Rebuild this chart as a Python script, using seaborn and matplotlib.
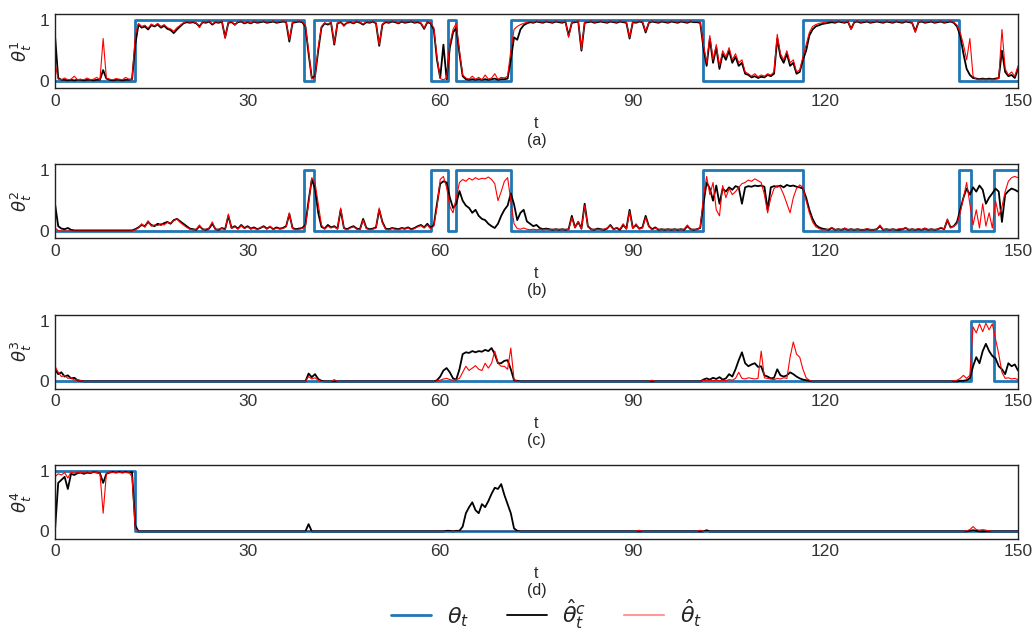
import numpy as np
import pandas as pd
import matplotlib
matplotlib.use("Agg")
import matplotlib.pyplot as plt
from matplotlib.lines import Line2D
import seaborn as sns

sns.set_theme(style="white")
plt.rcParams["font.family"] = ["Liberation Sans", "DejaVu Sans"]
plt.rcParams["mathtext.fontset"] = "dejavusans"

# ---------------------------------------------------------------------------
# Regime sequence of the true state theta_t (one-hot over four components)
# ---------------------------------------------------------------------------
switch_times = [0, 12.5, 38.8, 40.3, 58.6, 61.2, 62.5, 71.0, 100.9, 116.5, 140.8, 142.7, 146.3]
active_component = [4, 1, 2, 1, 2, 1, 2, 1, 2, 1, 2, 3, 2]
t_end = 150.0

# Estimates sampled every 0.5 time units (t = 0, 0.5, ..., 150); one row = 10 time units
dt = 0.5

# component 1: filtered estimate with clustering (hat theta^c) and without (hat theta)
est_c_1 = (
    [0.75, 0.05, 0.02, 0.02, 0.01, 0.02, 0.01, 0.02, 0.02, 0.01, 0.02, 0.02, 0.01, 0.02, 0.02, 0.18, 0.04, 0.02, 0.01, 0.02]
    + [0.02, 0.01, 0.02, 0.02, 0.03, 0.6, 0.93, 0.88, 0.9, 0.85, 0.92, 0.9, 0.93, 0.88, 0.91, 0.86, 0.84, 0.79, 0.85, 0.9]
    + [0.95, 0.97, 0.96, 0.97, 0.95, 0.9, 0.97, 0.96, 0.98, 0.93, 0.97, 0.96, 0.98, 0.72, 0.96, 0.97, 0.93, 0.97, 0.98, 0.95]
    + [0.97, 0.95, 0.98, 0.96, 0.97, 0.98, 0.96, 0.97, 0.98, 0.96, 0.97, 0.98, 0.97, 0.65, 0.96, 0.97, 0.98, 0.97, 0.9, 0.45]
    + [0.05, 0.08, 0.5, 0.88, 0.95, 0.93, 0.96, 0.6, 0.95, 0.97, 0.92, 0.96, 0.97, 0.95, 0.98, 0.96, 0.93, 0.97, 0.96, 0.98]
    + [0.95, 0.58, 0.93, 0.97, 0.96, 0.98, 0.97, 0.95, 0.98, 0.96, 0.97, 0.98, 0.96, 0.97, 0.95, 0.86, 0.97, 0.95, 0.85, 0.35]
    + [0.05, 0.6, 0.03, 0.55, 0.8, 0.88, 0.45, 0.08, 0.03, 0.02, 0.03, 0.02, 0.03, 0.02, 0.03, 0.02, 0.03, 0.04, 0.02, 0.03]
    + [0.03, 0.04, 0.35, 0.72, 0.68, 0.85, 0.92, 0.95, 0.97, 0.96, 0.98, 0.97, 0.96, 0.98, 0.97, 0.96, 0.98, 0.97, 0.96, 0.98]
    + [0.75, 0.96, 0.97, 0.98, 0.5, 0.96, 0.97, 0.98, 0.96, 0.97, 0.98, 0.97, 0.96, 0.98, 0.97, 0.96, 0.98, 0.97, 0.96, 0.7]
    + [0.97, 0.96, 0.98, 0.97, 0.8, 0.96, 0.98, 0.97, 0.96, 0.98, 0.97, 0.96, 0.98, 0.97, 0.96, 0.98, 0.97, 0.96, 0.98, 0.97]
    + [0.97, 0.96, 0.55, 0.25, 0.7, 0.3, 0.55, 0.2, 0.45, 0.35, 0.5, 0.3, 0.4, 0.25, 0.3, 0.12, 0.1, 0.06, 0.08, 0.05]
    + [0.07, 0.06, 0.1, 0.08, 0.12, 0.7, 0.4, 0.3, 0.45, 0.25, 0.3, 0.12, 0.15, 0.35, 0.5, 0.75, 0.85, 0.9, 0.92, 0.94]
    + [0.95, 0.96, 0.97, 0.96, 0.98, 0.97, 0.96, 0.98, 0.86, 0.97, 0.98, 0.96, 0.97, 0.98, 0.96, 0.97, 0.98, 0.97, 0.96, 0.98]
    + [0.97, 0.96, 0.98, 0.97, 0.96, 0.98, 0.97, 0.96, 0.82, 0.97, 0.98, 0.96, 0.97, 0.98, 0.96, 0.97, 0.98, 0.96, 0.97, 0.98]
    + [0.96, 0.9, 0.75, 0.45, 0.2, 0.1, 0.05, 0.04, 0.03, 0.04, 0.03, 0.04, 0.03, 0.04, 0.05, 0.5, 0.15, 0.08, 0.1, 0.05]
    + [0.2]
)
est_1 = (
    [0.3, 0.03, 0.02, 0.05, 0.02, 0.03, 0.08, 0.02, 0.03, 0.02, 0.05, 0.02, 0.03, 0.06, 0.02, 0.7, 0.05, 0.03, 0.02, 0.04]
    + [0.03, 0.02, 0.06, 0.03, 0.02, 0.75, 0.95, 0.9, 0.92, 0.87, 0.94, 0.91, 0.95, 0.9, 0.93, 0.88, 0.86, 0.82, 0.88, 0.92]
    + [0.96, 0.98, 0.97, 0.98, 0.96, 0.88, 0.98, 0.97, 0.99, 0.94, 0.98, 0.97, 0.99, 0.7, 0.97, 0.98, 0.92, 0.98, 0.99, 0.96]
    + [0.98, 0.96, 0.99, 0.97, 0.98, 0.99, 0.97, 0.98, 0.99, 0.97, 0.98, 0.99, 0.98, 0.68, 0.97, 0.98, 0.99, 0.98, 0.92, 0.5]
    + [0.03, 0.06, 0.55, 0.9, 0.96, 0.94, 0.97, 0.62, 0.96, 0.98, 0.9, 0.97, 0.98, 0.96, 0.99, 0.97, 0.94, 0.98, 0.97, 0.99]
    + [0.96, 0.6, 0.94, 0.98, 0.97, 0.99, 0.98, 0.96, 0.99, 0.97, 0.98, 0.99, 0.97, 0.98, 0.96, 0.87, 0.98, 0.96, 0.88, 0.4]
    + [0.04, 0.02, 0.05, 0.6, 0.85, 0.95, 0.5, 0.1, 0.05, 0.03, 0.08, 0.03, 0.06, 0.02, 0.1, 0.03, 0.05, 0.12, 0.03, 0.06]
    + [0.05, 0.08, 0.5, 0.85, 0.9, 0.93, 0.95, 0.97, 0.98, 0.97, 0.99, 0.98, 0.97, 0.99, 0.98, 0.97, 0.99, 0.98, 0.97, 0.99]
    + [0.72, 0.97, 0.98, 0.99, 0.52, 0.97, 0.98, 0.99, 0.97, 0.98, 0.99, 0.98, 0.97, 0.99, 0.98, 0.97, 0.99, 0.98, 0.97, 0.72]
    + [0.98, 0.97, 0.99, 0.98, 0.82, 0.97, 0.99, 0.98, 0.97, 0.99, 0.98, 0.97, 0.99, 0.98, 0.97, 0.99, 0.98, 0.97, 0.99, 0.98]
    + [0.98, 0.97, 0.6, 0.3, 0.75, 0.35, 0.6, 0.25, 0.5, 0.4, 0.55, 0.35, 0.45, 0.3, 0.35, 0.15, 0.12, 0.08, 0.12, 0.07]
    + [0.1, 0.08, 0.12, 0.1, 0.15, 0.77, 0.45, 0.35, 0.5, 0.3, 0.35, 0.15, 0.18, 0.4, 0.6, 0.8, 0.9, 0.93, 0.95, 0.96]
    + [0.97, 0.98, 0.99, 0.97, 0.99, 0.98, 0.97, 0.99, 0.85, 0.98, 0.99, 0.97, 0.98, 0.99, 0.97, 0.98, 0.99, 0.98, 0.97, 0.99]
    + [0.98, 0.97, 0.99, 0.98, 0.97, 0.99, 0.98, 0.97, 0.8, 0.98, 0.99, 0.97, 0.98, 0.99, 0.97, 0.98, 0.99, 0.97, 0.98, 0.99]
    + [0.97, 0.92, 0.8, 0.6, 0.35, 0.7, 0.08, 0.03, 0.02, 0.03, 0.02, 0.03, 0.02, 0.03, 0.04, 0.85, 0.2, 0.1, 0.15, 0.08]
    + [0.25]
)

# component 2
est_c_2 = (
    [0.45, 0.08, 0.04, 0.03, 0.05, 0.02, 0.01, 0.01, 0.01, 0.01, 0.01, 0.01, 0.01, 0.01, 0.01, 0.01, 0.01, 0.01, 0.01, 0.01]
    + [0.01, 0.01, 0.01, 0.01, 0.01, 0.03, 0.06, 0.1, 0.08, 0.15, 0.1, 0.08, 0.12, 0.1, 0.13, 0.15, 0.12, 0.18, 0.2, 0.16]
    + [0.12, 0.08, 0.04, 0.03, 0.02, 0.08, 0.03, 0.02, 0.04, 0.12, 0.03, 0.02, 0.05, 0.03, 0.25, 0.05, 0.08, 0.04, 0.1, 0.05]
    + [0.08, 0.04, 0.06, 0.03, 0.05, 0.08, 0.04, 0.07, 0.03, 0.06, 0.04, 0.05, 0.08, 0.28, 0.05, 0.03, 0.04, 0.05, 0.1, 0.5]
    + [0.85, 0.7, 0.3, 0.07, 0.04, 0.1, 0.06, 0.08, 0.04, 0.35, 0.05, 0.03, 0.06, 0.08, 0.04, 0.03, 0.2, 0.05, 0.03, 0.04]
    + [0.06, 0.35, 0.15, 0.04, 0.03, 0.05, 0.04, 0.03, 0.05, 0.04, 0.06, 0.03, 0.05, 0.08, 0.1, 0.06, 0.12, 0.05, 0.1, 0.45]
    + [0.78, 0.82, 0.8, 0.55, 0.38, 0.45, 0.66, 0.5, 0.42, 0.38, 0.3, 0.35, 0.25, 0.2, 0.18, 0.12, 0.08, 0.05, 0.12, 0.25]
    + [0.35, 0.42, 0.62, 0.44, 0.18, 0.3, 0.35, 0.16, 0.12, 0.08, 0.1, 0.05, 0.03, 0.04, 0.03, 0.02, 0.03, 0.02, 0.03, 0.02]
    + [0.03, 0.25, 0.06, 0.15, 0.04, 0.45, 0.08, 0.03, 0.02, 0.04, 0.03, 0.02, 0.04, 0.1, 0.03, 0.05, 0.02, 0.1, 0.04, 0.35]
    + [0.05, 0.1, 0.04, 0.06, 0.25, 0.08, 0.03, 0.06, 0.02, 0.03, 0.02, 0.03, 0.02, 0.03, 0.02, 0.03, 0.02, 0.08, 0.03, 0.02]
    + [0.03, 0.05, 0.45, 0.8, 0.7, 0.5, 0.75, 0.45, 0.7, 0.65, 0.72, 0.68, 0.74, 0.72, 0.45, 0.72, 0.74, 0.73, 0.75, 0.74]
    + [0.75, 0.73, 0.35, 0.72, 0.74, 0.73, 0.75, 0.72, 0.76, 0.74, 0.75, 0.73, 0.72, 0.7, 0.55, 0.35, 0.2, 0.1, 0.06, 0.04]
    + [0.03, 0.02, 0.05, 0.02, 0.03, 0.02, 0.04, 0.02, 0.03, 0.02, 0.03, 0.02, 0.02, 0.03, 0.02, 0.02, 0.03, 0.08, 0.02, 0.03]
    + [0.02, 0.03, 0.02, 0.02, 0.03, 0.05, 0.02, 0.03, 0.02, 0.03, 0.02, 0.04, 0.02, 0.03, 0.02, 0.03, 0.05, 0.03, 0.18, 0.06]
    + [0.08, 0.15, 0.35, 0.55, 0.7, 0.6, 0.72, 0.65, 0.75, 0.68, 0.45, 0.55, 0.62, 0.7, 0.65, 0.15, 0.6, 0.66, 0.7, 0.68]
    + [0.65]
)
est_2 = (
    [0.05, 0.01, 0.0, 0.0, 0.0, 0.0, 0.0, 0.0, 0.0, 0.0, 0.0, 0.0, 0.0, 0.0, 0.0, 0.0, 0.0, 0.0, 0.0, 0.0]
    + [0.0, 0.0, 0.0, 0.0, 0.0, 0.02, 0.05, 0.12, 0.06, 0.17, 0.08, 0.1, 0.09, 0.12, 0.1, 0.14, 0.13, 0.17, 0.2, 0.14]
    + [0.1, 0.06, 0.03, 0.02, 0.03, 0.1, 0.02, 0.03, 0.05, 0.15, 0.02, 0.03, 0.04, 0.02, 0.28, 0.04, 0.07, 0.03, 0.09, 0.04]
    + [0.07, 0.03, 0.05, 0.02, 0.06, 0.07, 0.03, 0.08, 0.02, 0.05, 0.03, 0.04, 0.07, 0.3, 0.04, 0.02, 0.03, 0.04, 0.08, 0.45]
    + [0.88, 0.8, 0.45, 0.1, 0.03, 0.08, 0.05, 0.07, 0.03, 0.38, 0.04, 0.02, 0.05, 0.07, 0.03, 0.02, 0.18, 0.04, 0.02, 0.03]
    + [0.05, 0.38, 0.13, 0.03, 0.02, 0.04, 0.03, 0.02, 0.04, 0.03, 0.05, 0.02, 0.04, 0.07, 0.09, 0.05, 0.1, 0.04, 0.08, 0.4]
    + [0.85, 0.9, 0.72, 0.4, 0.3, 0.55, 0.8, 0.85, 0.82, 0.87, 0.84, 0.88, 0.85, 0.87, 0.86, 0.89, 0.85, 0.78, 0.5, 0.65]
    + [0.82, 0.88, 0.5, 0.12, 0.04, 0.03, 0.05, 0.03, 0.02, 0.03, 0.02, 0.03, 0.02, 0.03, 0.02, 0.03, 0.02, 0.03, 0.02, 0.03]
    + [0.02, 0.22, 0.05, 0.16, 0.03, 0.42, 0.07, 0.02, 0.03, 0.03, 0.02, 0.03, 0.05, 0.09, 0.02, 0.06, 0.03, 0.12, 0.03, 0.32]
    + [0.04, 0.12, 0.03, 0.05, 0.22, 0.07, 0.02, 0.05, 0.03, 0.02, 0.03, 0.02, 0.03, 0.02, 0.03, 0.02, 0.03, 0.1, 0.02, 0.03]
    + [0.02, 0.06, 0.55, 0.9, 0.6, 0.8, 0.35, 0.25, 0.75, 0.55, 0.7, 0.6, 0.65, 0.72, 0.78, 0.8, 0.84, 0.82, 0.86, 0.83]
    + [0.8, 0.6, 0.3, 0.55, 0.7, 0.75, 0.72, 0.6, 0.45, 0.3, 0.55, 0.7, 0.76, 0.72, 0.5, 0.3, 0.15, 0.07, 0.04, 0.02]
    + [0.02, 0.03, 0.06, 0.02, 0.03, 0.02, 0.05, 0.02, 0.03, 0.02, 0.03, 0.02, 0.02, 0.04, 0.02, 0.02, 0.03, 0.1, 0.02, 0.03]
    + [0.02, 0.03, 0.02, 0.04, 0.03, 0.06, 0.02, 0.03, 0.02, 0.04, 0.02, 0.05, 0.02, 0.03, 0.02, 0.03, 0.06, 0.03, 0.2, 0.05]
    + [0.08, 0.12, 0.3, 0.55, 0.8, 0.45, 0.1, 0.35, 0.05, 0.45, 0.08, 0.3, 0.05, 0.5, 0.25, 0.4, 0.65, 0.82, 0.88, 0.9]
    + [0.88]
)

# component 3
est_c_3 = (
    [0.2, 0.12, 0.15, 0.08, 0.1, 0.05, 0.06, 0.02, 0.01, 0.0, 0.0, 0.0, 0.0, 0.0, 0.0, 0.0, 0.0, 0.0, 0.0, 0.0]
    + [0.0] * 20
    + [0.0] * 20
    + [0.0, 0.0, 0.0, 0.0, 0.0, 0.0, 0.0, 0.0, 0.0, 0.0, 0.0, 0.0, 0.0, 0.0, 0.0, 0.0, 0.0, 0.0, 0.0, 0.13]
    + [0.07, 0.12, 0.04, 0.01, 0.0, 0.0, 0.0, 0.0, 0.0, 0.0, 0.0, 0.0, 0.0, 0.0, 0.0, 0.0, 0.0, 0.0, 0.0, 0.0]
    + [0.0, 0.0, 0.0, 0.0, 0.0, 0.0, 0.0, 0.0, 0.0, 0.0, 0.0, 0.0, 0.0, 0.0, 0.0, 0.0, 0.0, 0.0, 0.0, 0.02]
    + [0.08, 0.18, 0.22, 0.15, 0.05, 0.03, 0.2, 0.45, 0.48, 0.47, 0.5, 0.48, 0.5, 0.49, 0.52, 0.5, 0.55, 0.45, 0.3, 0.3]
    + [0.34, 0.35, 0.2, 0.02, 0.01, 0.0, 0.0, 0.0, 0.0, 0.0, 0.0, 0.0, 0.0, 0.0, 0.0, 0.0, 0.0, 0.0, 0.0, 0.0]
    + [0.0] * 20
    + [0.0] * 20
    + [0.0, 0.0, 0.03, 0.05, 0.03, 0.06, 0.04, 0.07, 0.03, 0.05, 0.12, 0.08, 0.2, 0.35, 0.48, 0.3, 0.25, 0.28, 0.3, 0.24]
    + [0.25, 0.1, 0.08, 0.05, 0.06, 0.2, 0.1, 0.08, 0.1, 0.15, 0.12, 0.08, 0.05, 0.03, 0.02, 0.01, 0.0, 0.0, 0.0, 0.0]
    + [0.0] * 20
    + [0.0] * 20
    + [0.0, 0.0, 0.01, 0.01, 0.02, 0.05, 0.25, 0.4, 0.3, 0.5, 0.62, 0.5, 0.42, 0.38, 0.25, 0.2, 0.12, 0.3, 0.25, 0.28]
    + [0.18]
)
est_3 = (
    [0.25, 0.15, 0.08, 0.1, 0.05, 0.06, 0.02, 0.03, 0.01, 0.0, 0.0, 0.0, 0.0, 0.0, 0.0, 0.0, 0.0, 0.0, 0.0, 0.0]
    + [0.0] * 20
    + [0.0] * 20
    + [0.0, 0.0, 0.0, 0.0, 0.0, 0.0, 0.0, 0.0, 0.0, 0.0, 0.0, 0.0, 0.0, 0.0, 0.0, 0.0, 0.0, 0.0, 0.0, 0.08]
    + [0.04, 0.06, 0.02, 0.0, 0.0, 0.0, 0.0, 0.03, 0.0, 0.0, 0.0, 0.0, 0.0, 0.0, 0.0, 0.0, 0.0, 0.0, 0.0, 0.0]
    + [0.0, 0.0, 0.0, 0.0, 0.0, 0.0, 0.0, 0.0, 0.0, 0.0, 0.0, 0.0, 0.0, 0.0, 0.0, 0.0, 0.0, 0.0, 0.0, 0.01]
    + [0.02, 0.04, 0.05, 0.03, 0.02, 0.03, 0.05, 0.15, 0.25, 0.18, 0.22, 0.26, 0.2, 0.18, 0.3, 0.22, 0.3, 0.5, 0.3, 0.25]
    + [0.25, 0.2, 0.55, 0.03, 0.0, 0.0, 0.0, 0.0, 0.0, 0.0, 0.0, 0.0, 0.0, 0.0, 0.0, 0.0, 0.0, 0.0, 0.0, 0.0]
    + [0.0] * 20
    + [0.0, 0.0, 0.0, 0.0, 0.0, 0.0, 0.02, 0.0, 0.0, 0.0, 0.0, 0.0, 0.0, 0.0, 0.0, 0.0, 0.0, 0.0, 0.0, 0.0]
    + [0.0, 0.0, 0.02, 0.01, 0.02, 0.01, 0.02, 0.01, 0.02, 0.01, 0.03, 0.02, 0.05, 0.15, 0.05, 0.04, 0.06, 0.05, 0.04, 0.05]
    + [0.5, 0.06, 0.05, 0.04, 0.03, 0.05, 0.04, 0.06, 0.05, 0.4, 0.65, 0.45, 0.4, 0.2, 0.06, 0.02, 0.0, 0.0, 0.0, 0.0]
    + [0.0] * 20
    + [0.0] * 20
    + [0.01, 0.02, 0.05, 0.1, 0.05, 0.1, 0.9, 0.8, 0.95, 0.82, 0.96, 0.85, 0.95, 0.7, 0.45, 0.15, 0.05, 0.06, 0.04, 0.05]
    + [0.03]
)

# component 4
est_c_4 = (
    [0.02, 0.8, 0.85, 0.9, 0.7, 0.95, 0.93, 0.96, 0.97, 0.95, 0.97, 0.96, 0.98, 0.97, 0.96, 0.8, 0.95, 0.97, 0.98, 0.97]
    + [0.98, 0.97, 0.98, 0.97, 0.98, 0.1, 0.0, 0.0, 0.0, 0.0, 0.0, 0.0, 0.0, 0.0, 0.0, 0.0, 0.0, 0.0, 0.0, 0.0]
    + [0.0] * 20
    + [0.0, 0.0, 0.0, 0.0, 0.0, 0.0, 0.0, 0.0, 0.0, 0.0, 0.0, 0.0, 0.0, 0.0, 0.0, 0.0, 0.0, 0.0, 0.0, 0.12]
    + [0.0] * 20
    + [0.0] * 20
    + [0.0, 0.0, 0.01, 0.01, 0.0, 0.01, 0.01, 0.08, 0.3, 0.4, 0.48, 0.35, 0.3, 0.45, 0.4, 0.5, 0.62, 0.72, 0.7, 0.78]
    + [0.6, 0.45, 0.3, 0.05, 0.01, 0.0, 0.0, 0.0, 0.0, 0.0, 0.0, 0.0, 0.0, 0.0, 0.0, 0.0, 0.0, 0.0, 0.0, 0.0]
    + [0.0] * 20
    + [0.0] * 20
    + [0.0, 0.0, 0.0, 0.02, 0.0, 0.0, 0.0, 0.0, 0.0, 0.0, 0.0, 0.0, 0.0, 0.0, 0.0, 0.0, 0.0, 0.0, 0.0, 0.0]
    + [0.0] * 20
    + [0.0] * 20
    + [0.0] * 20
    + [0.0, 0.0, 0.0, 0.0, 0.0, 0.01, 0.02, 0.01, 0.0, 0.0, 0.0, 0.0, 0.0, 0.0, 0.0, 0.0, 0.0, 0.0, 0.0, 0.0]
    + [0.0]
)
est_4 = (
    [0.9, 0.95, 0.93, 0.97, 0.88, 0.98, 0.96, 0.98, 0.97, 0.98, 0.96, 0.97, 0.98, 0.97, 0.96, 0.3, 0.95, 0.98, 0.97, 0.98]
    + [0.97, 0.98, 0.97, 0.98, 0.9, 0.05, 0.0, 0.0, 0.0, 0.0, 0.0, 0.0, 0.0, 0.0, 0.0, 0.0, 0.0, 0.0, 0.0, 0.0]
    + [0.0] * 20
    + [0.0] * 20
    + [0.0] * 20
    + [0.0] * 20
    + [0.0] * 20
    + [0.0] * 20
    + [0.0] * 20
    + [0.0, 0.0, 0.02, 0.0, 0.0, 0.0, 0.0, 0.0, 0.0, 0.0, 0.0, 0.0, 0.0, 0.0, 0.0, 0.0, 0.0, 0.0, 0.0, 0.0]
    + [0.0, 0.02, 0.0, 0.0, 0.0, 0.0, 0.0, 0.0, 0.0, 0.0, 0.0, 0.0, 0.0, 0.0, 0.0, 0.0, 0.0, 0.0, 0.0, 0.0]
    + [0.0] * 20
    + [0.0] * 20
    + [0.0] * 20
    + [0.0, 0.0, 0.0, 0.0, 0.01, 0.03, 0.08, 0.03, 0.02, 0.03, 0.02, 0.01, 0.0, 0.0, 0.0, 0.0, 0.0, 0.0, 0.0, 0.0]
    + [0.0]
)

estimates_clustered = [est_c_1, est_c_2, est_c_3, est_c_4]
estimates_plain = [est_1, est_2, est_3, est_4]
panel_tags = ["(a)", "(b)", "(c)", "(d)"]
x_ticks = [0, 30, 60, 90, 120, 150]
legend_labels = [r"$\theta_t$", r"$\hat{\theta}^c_t$", r"$\hat{\theta}_t$"]

n_samples = len(est_c_1)
for series in estimates_clustered + estimates_plain:
    assert len(series) == n_samples
t_grid = np.arange(n_samples) * dt

BLUE = "#1f77b4"
BLACK = "#000000"
RED = "#ff0000"

fig = plt.figure(figsize=(10.35, 6.32), dpi=100)
left, width, height = 55 / 1035, 963 / 1035, 74 / 632
bottoms = [1 - 88.3 / 632, 1 - 238.3 / 632, 1 - 388.7 / 632, 1 - 538.7 / 632]

for k in range(4):
    ax = fig.add_axes([left, bottoms[k], width, height])
    comp = k + 1
    true_x = list(switch_times) + [t_end]
    true_y = [1.0 if c == comp else 0.0 for c in active_component]
    true_y = true_y + [true_y[-1]]

    sns.lineplot(x=true_x, y=true_y, ax=ax, color=BLUE, lw=2.0,
                 drawstyle="steps-post", estimator=None, sort=False, legend=False)
    sns.lineplot(x=t_grid, y=estimates_clustered[k], ax=ax, color=BLACK, lw=1.3,
                 estimator=None, sort=False, legend=False)
    sns.lineplot(x=t_grid, y=estimates_plain[k], ax=ax, color=RED, lw=0.8,
                 estimator=None, sort=False, legend=False)

    ax.set_xlim(0, t_end)
    ax.set_ylim(-0.12, 1.1)
    ax.set_xticks(x_ticks)
    ax.set_yticks([0, 1])
    ax.tick_params(axis="both", labelsize=12.5, colors="#333333", length=0, pad=4)
    ax.set_xlabel("t\n" + panel_tags[k], fontsize=11.5, color="#262626", labelpad=5,
                  linespacing=1.15)
    ax.set_ylabel(r"$\theta_t^{%d}$" % comp, fontsize=13, color="#262626", labelpad=4)
    for sp in ax.spines.values():
        sp.set_color("#222222")
        sp.set_linewidth(1.0)

handles = [
    Line2D([], [], color=BLUE, lw=2.0),
    Line2D([], [], color=BLACK, lw=1.3),
    Line2D([], [], color=RED, lw=1.5, alpha=0.4),
]
fig.legend(handles, legend_labels, loc="lower center", bbox_to_anchor=(0.528, -0.03),
           ncol=3, frameon=False, fontsize=16, handlelength=1.8,
           columnspacing=1.7, handletextpad=0.7)

fig.savefig("out.png", dpi=100)
